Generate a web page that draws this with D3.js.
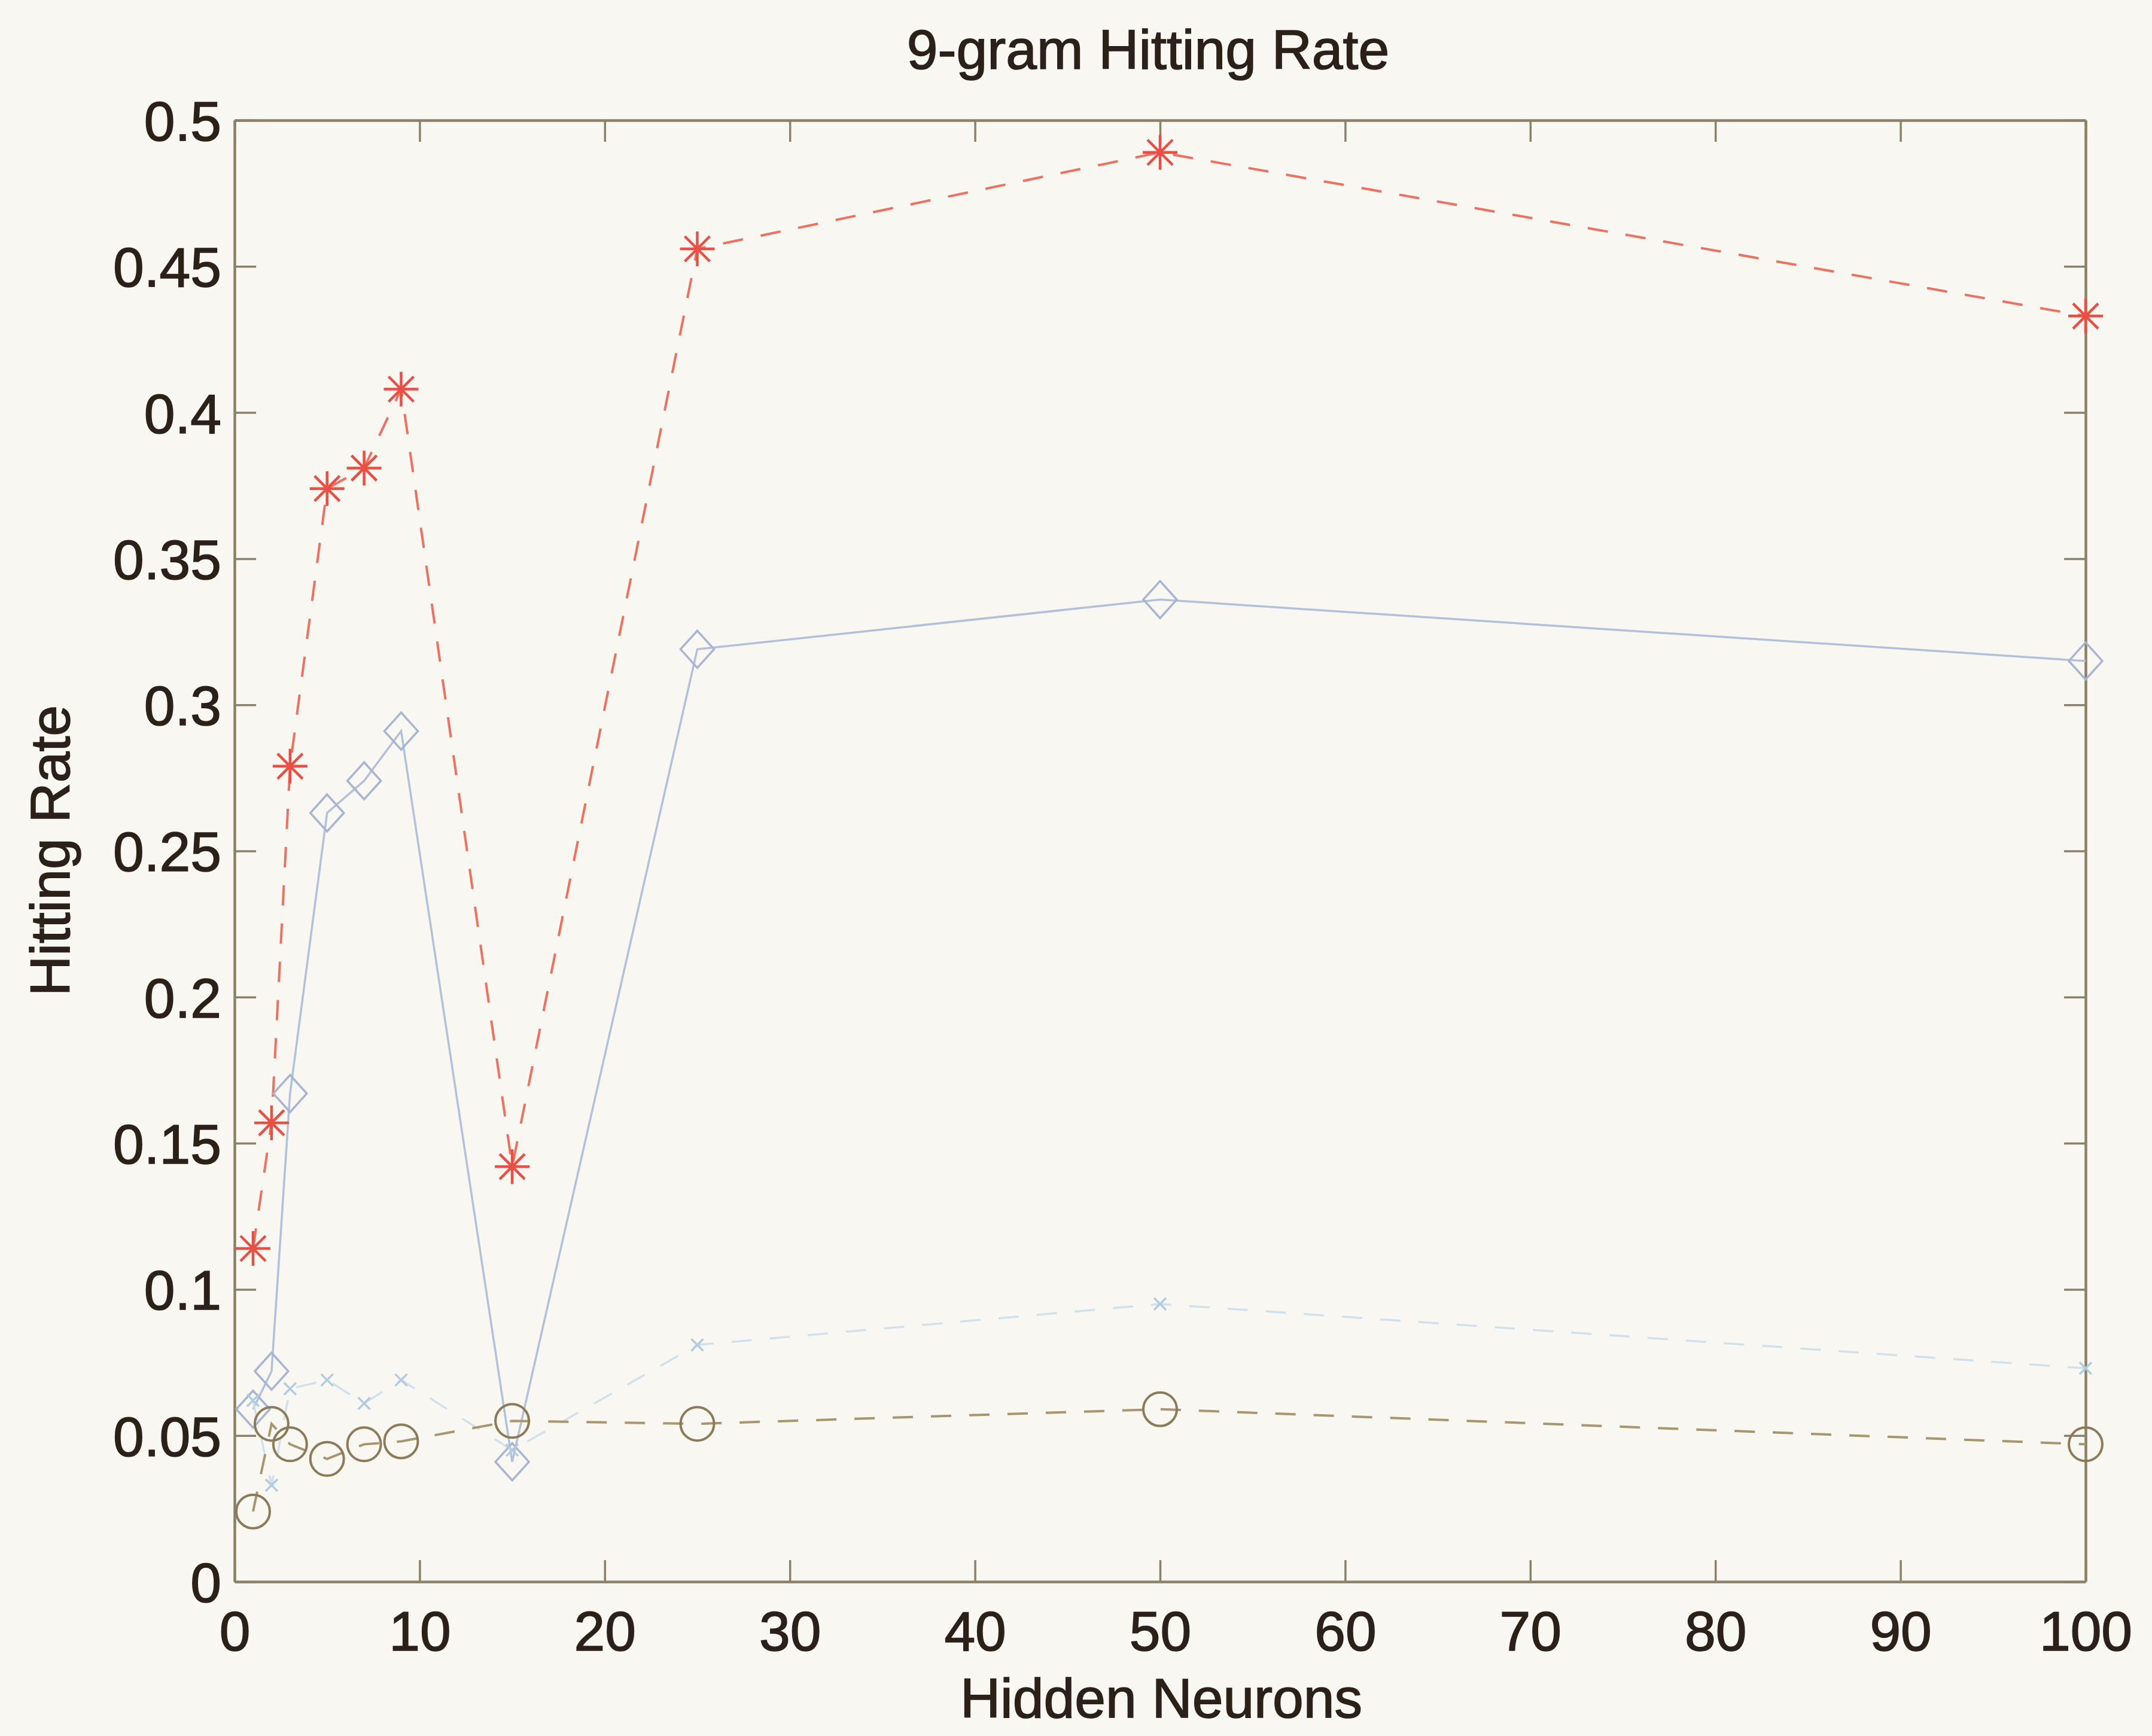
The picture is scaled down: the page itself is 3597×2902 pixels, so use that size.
<!DOCTYPE html>
<html>
<head>
<meta charset="utf-8">
<script src="https://cdn.jsdelivr.net/npm/d3@7"></script>
<style>
  html, body { margin: 0; padding: 0; background: #f8f7f2; }
  svg { display: block; }
</style>
</head>
<body>
<script>
// Hidden-layer sizes tried and the 9-gram hitting rate of each model variant
const hiddenNeurons = [1, 2, 3, 5, 7, 9, 15, 25, 50, 100];
const starRate    = [0.114, 0.157, 0.279, 0.374, 0.381, 0.408, 0.142, 0.456, 0.489, 0.433];
const diamondRate = [0.059, 0.072, 0.167, 0.263, 0.274, 0.291, 0.041, 0.319, 0.336, 0.315];
const crossRate   = [0.062, 0.033, 0.066, 0.069, 0.061, 0.069, 0.045, 0.081, 0.095, 0.073];
const circleRate  = [0.024, 0.054, 0.047, 0.042, 0.047, 0.048, 0.055, 0.054, 0.059, 0.047];

const xTicks = [0, 10, 20, 30, 40, 50, 60, 70, 80, 90, 100];
const yTicks = [0, 0.05, 0.1, 0.15, 0.2, 0.25, 0.3, 0.35, 0.4, 0.45, 0.5];
const yTickLabels = ["0", "0.05", "0.1", "0.15", "0.2", "0.25", "0.3", "0.35", "0.4", "0.45", "0.5"];

const titleText = "9-gram Hitting Rate";
const xLabelText = "Hidden Neurons";
const yLabelText = "Hitting Rate";

const W = 3597, H = 2902;
const plot = { left: 392, right: 3486, top: 201, bottom: 2644 };

const FONT = "'Liberation Sans', Arial, Helvetica, sans-serif";
const TEXT = "#2b2118";
const AXIS = "#8a8168";
const FONT_SIZE = "93px";

const svg = d3.select("body").append("svg")
  .attr("width", W).attr("height", H)
  .attr("viewBox", `0 0 ${W} ${H}`);

svg.append("rect").attr("width", W).attr("height", H).attr("fill", "#f8f7f2");

const x = d3.scaleLinear().domain([0, 100]).range([plot.left, plot.right]);
const y = d3.scaleLinear().domain([0, 0.5]).range([plot.bottom, plot.top]);

function styleText(sel) {
  sel.attr("fill", TEXT)
    .attr("stroke", TEXT).attr("stroke-width", 1.6)
    .style("font-family", FONT).style("font-size", FONT_SIZE);
}

// Axes: ticks point inward on all four sides of the box
const tickLen = 36;
function styleAxis(g) {
  g.select(".domain").attr("stroke", AXIS).attr("stroke-width", 4.5);
  g.selectAll(".tick line").attr("stroke", AXIS).attr("stroke-width", 3.5);
  styleText(g.selectAll(".tick text"));
}

const xBottom = svg.append("g").attr("transform", `translate(0,${plot.bottom})`)
  .call(d3.axisBottom(x).tickValues(xTicks).tickSizeInner(-tickLen).tickSizeOuter(0)
    .tickPadding(42).tickFormat(d3.format("d")));
styleAxis(xBottom);
xBottom.selectAll(".tick text").attr("dy", "0.78em");

const xTop = svg.append("g").attr("transform", `translate(0,${plot.top})`)
  .call(d3.axisTop(x).tickValues(xTicks).tickSizeInner(-tickLen).tickSizeOuter(0).tickFormat(""));
styleAxis(xTop);

const yLeft = svg.append("g").attr("transform", `translate(${plot.left},0)`)
  .call(d3.axisLeft(y).tickValues(yTicks).tickSizeInner(-tickLen).tickSizeOuter(0)
    .tickPadding(22).tickFormat((d, i) => yTickLabels[i]));
styleAxis(yLeft);
yLeft.selectAll(".tick text").attr("dy", "0.36em");

const yRight = svg.append("g").attr("transform", `translate(${plot.right},0)`)
  .call(d3.axisRight(y).tickValues(yTicks).tickSizeInner(-tickLen).tickSizeOuter(0).tickFormat(""));
styleAxis(yRight);

// Series
const pts = arr => hiddenNeurons.map((n, i) => [n, arr[i]]);
const line = d3.line().x(d => x(d[0])).y(d => y(d[1]));

const series = [
  { data: pts(starRate),    color: "#f0705f", marker: "star",    dash: "34 30", width: 4,   mcolor: "#ea4f45" },
  { data: pts(diamondRate), color: "#b3c0dc", marker: "diamond", dash: null,    width: 3.5, mcolor: "#a7b4d2" },
  { data: pts(crossRate),   color: "#d0e0ec", marker: "cross",   dash: "34 30", width: 3.5, mcolor: "#b0cce2" },
  { data: pts(circleRate),  color: "#a8966f", marker: "circle",  dash: "34 30", width: 4,   mcolor: "#8c7a58" }
];

const plotArea = svg.append("g");

series.forEach(s => {
  plotArea.append("path")
    .datum(s.data)
    .attr("d", line)
    .attr("fill", "none")
    .attr("stroke", s.color)
    .attr("stroke-width", s.width)
    .attr("stroke-dasharray", s.dash);
});

function markerPath(type) {
  if (type === "star") {
    const r = 29, q = 21;
    return `M0,${-r}L0,${r}M${-r},0L${r},0M${-q},${-q}L${q},${q}M${-q},${q}L${q},${-q}`;
  }
  if (type === "diamond") {
    return "M0,-31L28,0L0,31L-28,0Z";
  }
  if (type === "cross") {
    const c = 10;
    return `M${-c},${-c}L${c},${c}M${-c},${c}L${c},${-c}`;
  }
  return null;
}

series.forEach(s => {
  const g = plotArea.append("g");
  if (s.marker === "circle") {
    g.selectAll("circle").data(s.data).join("circle")
      .attr("cx", d => x(d[0])).attr("cy", d => y(d[1])).attr("r", 28)
      .attr("fill", "none").attr("stroke", s.mcolor).attr("stroke-width", 4);
  } else {
    g.selectAll("path").data(s.data).join("path")
      .attr("transform", d => `translate(${x(d[0])},${y(d[1])})`)
      .attr("d", markerPath(s.marker))
      .attr("fill", "none").attr("stroke", s.mcolor)
      .attr("stroke-width", s.marker === "star" ? 4.5 : 3.5);
  }
});

// Titles
svg.append("text")
  .attr("x", 1919).attr("y", 115)
  .attr("text-anchor", "middle")
  .call(styleText)
  .text(titleText);

svg.append("text")
  .attr("x", 1941).attr("y", 2871)
  .attr("text-anchor", "middle")
  .call(styleText)
  .text(xLabelText);

svg.append("text")
  .attr("transform", "translate(116,1422) rotate(-90)")
  .attr("text-anchor", "middle")
  .call(styleText)
  .text(yLabelText);
</script>
</body>
</html>
